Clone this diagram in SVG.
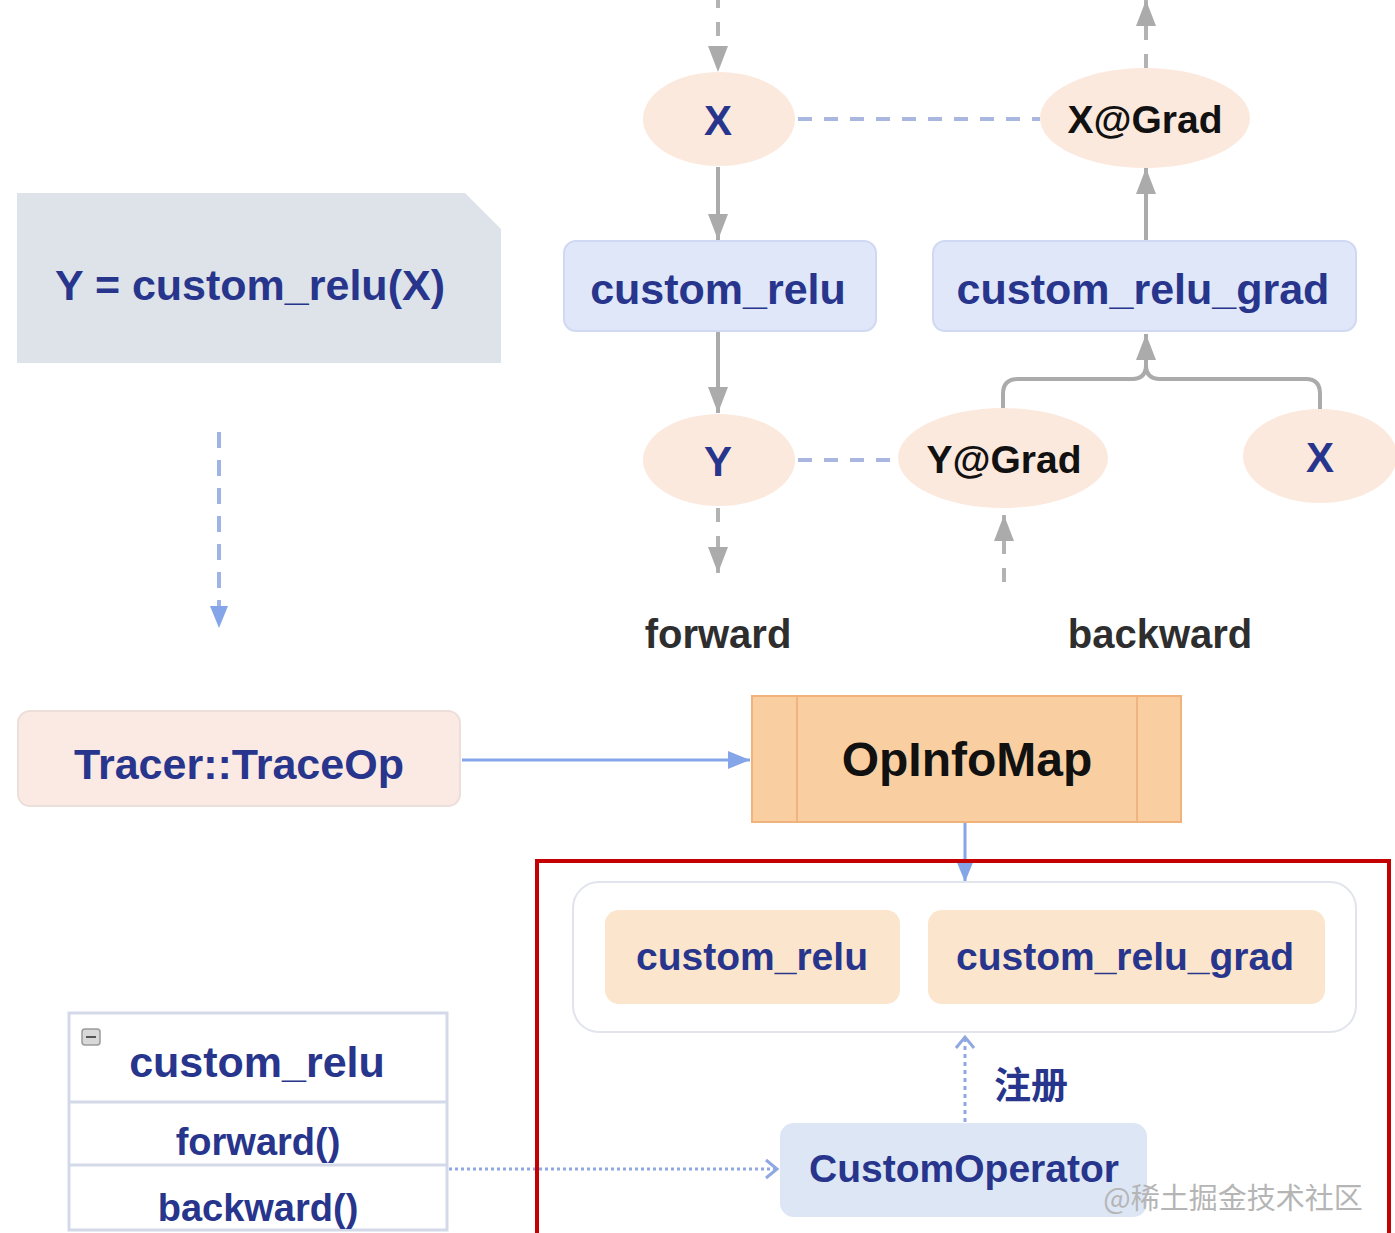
<svg xmlns="http://www.w3.org/2000/svg" width="1395" height="1233" viewBox="0 0 1395 1233">
<style>
text{font-family:"Liberation Sans",Arial,Helvetica,sans-serif;font-weight:bold;text-anchor:middle}
.blue{fill:#27358c}
.blk{fill:#111}
.ell{fill:#fce9de}
.vbox{fill:#dfe7f8;stroke:#cfd9f2;stroke-width:2}
.gl{stroke:#ababab;stroke-width:4;fill:none}
.gd{stroke:#b3b3b3;stroke-width:4;fill:none;stroke-dasharray:14 14}
.bd{stroke:#a9b6df;stroke-width:4;fill:none;stroke-dasharray:14 12}
</style>
<defs>
<marker id="ag" markerUnits="userSpaceOnUse" markerWidth="28" markerHeight="20" refX="26" refY="10" orient="auto"><path d="M0,0 L26,10 L0,20 z" fill="#ababab"/></marker>
<marker id="ab" markerUnits="userSpaceOnUse" markerWidth="24" markerHeight="20" refX="22" refY="10" orient="auto"><path d="M0,1 L22,10 L0,19 z" fill="#84a5e8"/></marker>
<marker id="av" markerUnits="userSpaceOnUse" markerWidth="16" markerHeight="22" refX="13" refY="11" orient="auto"><path d="M2,2 L13,11 L2,20" fill="none" stroke="#8fa8e2" stroke-width="3"/></marker>
</defs>

<g id="connectors">
<line class="gd" x1="718" y1="-6" x2="718" y2="72" marker-end="url(#ag)"/>
<line class="gd" x1="1146" y1="68" x2="1146" y2="0" marker-end="url(#ag)"/>
<line class="bd" x1="798" y1="119" x2="1040" y2="119"/>
<line class="gl" x1="718" y1="167" x2="718" y2="240" marker-end="url(#ag)"/>
<line class="gl" x1="1146" y1="241" x2="1146" y2="168" marker-end="url(#ag)"/>
<line class="gl" x1="718" y1="332" x2="718" y2="413" marker-end="url(#ag)"/>
<path class="gl" d="M1003,409 V394 Q1003,379 1018,379 H1132 Q1146,379 1146,365 Q1146,379 1160,379 H1306 Q1320,379 1320,394 V411"/>
<line class="gl" x1="1146" y1="366" x2="1146" y2="334" marker-end="url(#ag)"/>
<line class="bd" x1="798" y1="460" x2="925" y2="460"/>
<line class="gd" x1="718" y1="508" x2="718" y2="573" marker-end="url(#ag)"/>
<line class="gd" x1="1004" y1="582" x2="1004" y2="515" marker-end="url(#ag)"/>
<line x1="219" y1="432" x2="219" y2="628" stroke="#9fb3e6" stroke-width="4" stroke-dasharray="16 12" marker-end="url(#ab)"/>
<line x1="462" y1="760" x2="750" y2="760" stroke="#84a5e8" stroke-width="3" marker-end="url(#ab)"/>
<line x1="965" y1="823" x2="965" y2="882" stroke="#84a5e8" stroke-width="3" marker-end="url(#ab)"/>
<line x1="449" y1="1169" x2="777" y2="1169" stroke="#8fa8e2" stroke-width="3" stroke-dasharray="3 3" marker-end="url(#av)"/>
<line x1="965" y1="1122" x2="965" y2="1037" stroke="#8fa8e2" stroke-width="3" stroke-dasharray="4 4" marker-end="url(#av)"/>
</g>

<g id="red-frame"><rect x="537" y="861" width="852" height="400" fill="none" stroke="#c40000" stroke-width="4"/></g>

<g id="note-expr">
<path d="M17,193 H465 L501,229 V363 H17 Z" fill="#dde3e9"/>
<text class="blue" x="250" y="300" font-size="43">Y = custom_relu(X)</text>
</g>

<g id="node-x"><ellipse class="ell" cx="719" cy="119" rx="76" ry="47"/><text class="blue" x="718" y="135" font-size="42">X</text></g>
<g id="node-xgrad"><ellipse class="ell" cx="1145" cy="118" rx="105" ry="50"/><text class="blk" x="1145" y="133" font-size="39">X@Grad</text></g>
<g id="node-custom-relu"><rect class="vbox" x="564" y="241" width="312" height="90" rx="12"/><text class="blue" x="718" y="304" font-size="43">custom_relu</text></g>
<g id="node-custom-relu-grad"><rect class="vbox" x="933" y="241" width="423" height="90" rx="12"/><text class="blue" x="1143" y="304" font-size="43">custom_relu_grad</text></g>
<g id="node-y"><ellipse class="ell" cx="719" cy="460" rx="76" ry="46"/><text class="blue" x="718" y="476" font-size="42">Y</text></g>
<g id="node-ygrad"><ellipse class="ell" cx="1003" cy="458" rx="105" ry="50"/><text class="blk" x="1004" y="473" font-size="39">Y@Grad</text></g>
<g id="node-x2"><ellipse class="ell" cx="1320" cy="456" rx="77" ry="47"/><text class="blue" x="1320" y="472" font-size="42">X</text></g>
<g id="label-forward"><text x="718" y="648" font-size="40" fill="#2e2e2e">forward</text></g>
<g id="label-backward"><text x="1160" y="648" font-size="40" fill="#2e2e2e">backward</text></g>

<g id="node-tracer"><rect x="18" y="711" width="442" height="95" rx="12" fill="#fbe9e4" stroke="#ecdfdb" stroke-width="2"/><text class="blue" x="239" y="779" font-size="43">Tracer::TraceOp</text></g>

<g id="node-opinfomap">
<rect x="752" y="696" width="429" height="126" fill="#f9cfa1" stroke="#f1b27b" stroke-width="2"/>
<line x1="797" y1="697" x2="797" y2="821" stroke="#efb47f" stroke-width="2"/>
<line x1="1137" y1="697" x2="1137" y2="821" stroke="#efb47f" stroke-width="2"/>
<text class="blk" x="967" y="776" font-size="48">OpInfoMap</text>
</g>

<g id="group-registry">
<rect x="573" y="882" width="783" height="150" rx="26" fill="#fff" stroke="#e1e4ec" stroke-width="2"/>
<g id="reg-custom-relu"><rect x="605" y="910" width="295" height="94" rx="14" fill="#fbe5cc"/><text class="blue" x="752" y="970" font-size="39">custom_relu</text></g>
<g id="reg-custom-relu-grad"><rect x="928" y="910" width="397" height="94" rx="14" fill="#fbe5cc"/><text class="blue" x="1125" y="970" font-size="39">custom_relu_grad</text></g>
</g>
<g id="label-register"><text class="blue" x="1031" y="1099" font-size="37" style="font-family:'Noto Sans CJK SC','Liberation Sans',sans-serif">注册</text></g>

<g id="node-customoperator"><rect x="780" y="1123" width="367" height="94" rx="14" fill="#dde6f5"/><text class="blue" x="964" y="1182" font-size="39">CustomOperator</text></g>

<g id="node-uml">
<rect x="69" y="1013" width="378" height="217" fill="#fff" stroke="#d3d9e8" stroke-width="3"/>
<line x1="69" y1="1102" x2="447" y2="1102" stroke="#d3d9e8" stroke-width="3"/>
<line x1="69" y1="1165" x2="447" y2="1165" stroke="#d3d9e8" stroke-width="3"/>
<rect x="82" y="1029" width="18" height="16" rx="3" fill="#d8d8d8" stroke="#9a9a9a" stroke-width="1.5"/>
<line x1="86" y1="1037" x2="96" y2="1037" stroke="#555" stroke-width="2"/>
<text class="blue" x="257" y="1077" font-size="43">custom_relu</text>
<text class="blue" x="258" y="1155" font-size="38">forward()</text>
<text class="blue" x="258" y="1221" font-size="38">backward()</text>
</g>

<g id="watermark"><text x="1233" y="1209" font-size="29" style="font-family:'Noto Sans CJK SC','Liberation Sans',sans-serif;font-weight:normal" fill="#b5b5b5">@稀土掘金技术社区</text></g>
</svg>
